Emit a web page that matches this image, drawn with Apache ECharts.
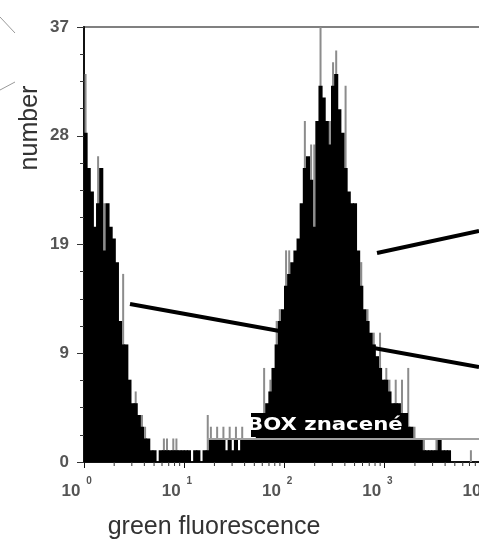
<!DOCTYPE html>
<html>
<head>
<meta charset="utf-8">
<script src="https://cdn.jsdelivr.net/npm/echarts@6/dist/echarts.min.js"></script>
<style>
  html, body { margin: 0; padding: 0; background: #fff; }
  #chart { width: 479px; height: 543px; }
</style>
</head>
<body>
<div id="chart"></div>
<script>
// histogram channels, 32 per decade, starting at 10^0
var binsPerDecade = 32;
var counts = [
  28, 25, 23, 20, 22, 25, 18, 22, 20, 19, 17, 12, 10, 10, 7, 5,
  5, 4, 3, 2, 2, 1, 1, 0, 1, 1, 1, 1, 1, 1, 1, 1,
  1, 1, 0, 1, 1, 0, 1, 1, 2, 2, 2, 2, 2, 1, 2, 1,
  2, 1, 2, 2, 2, 2, 2, 3, 3, 4, 5, 6, 8, 10, 12, 13,
  15, 16, 17, 18, 19, 22, 25, 26, 24, 20, 29, 32, 31, 29, 27, 32,
  33, 30, 28, 25, 23, 22, 22, 18, 15, 13, 12, 11, 10, 9, 8, 7,
  7, 6, 5, 5, 5, 4, 4, 3, 3, 2, 2, 2, 1, 1, 1, 1,
  1, 2, 1, 1, 1, 0, 0, 0, 0, 0, 0, 0, 0, 0, 0, 0
];
// thin grey single-channel spikes poking above the black bars
var spikeBins = [0, 4, 6, 12, 16, 18, 19, 25, 26, 28, 29, 39, 40, 42, 44, 46, 48, 50, 57, 59, 61, 62, 64, 65, 70, 72, 73, 75, 78, 79, 80, 83, 88, 90, 92, 94, 96, 97, 99, 101, 103, 105, 108, 112, 123];
var spikeVals = [33, 26, 22, 16, 6, 4, 3, 2, 2, 2, 2, 4, 3, 3, 3, 3, 3, 3, 8, 7, 12, 13, 18, 18, 29, 27, 27, 40, 29, 34, 35, 32, 17, 13, 11, 11, 8, 7, 7, 7, 8, 3, 2, 2, 1];

var yTicks = [0, 9, 19, 28, 37];
var decades = [0, 1, 2, 3, 4];
var gateFrom = 17, gateTo = 10000, gateLevel = 1.95;

var myChart = echarts.init(document.getElementById('chart'));

var histData = counts.map(function (c, i) {
    return [Math.pow(10, i / binsPerDecade), c, Math.pow(10, (i + 1) / binsPerDecade)];
});
var spikeData = spikeBins.map(function (b, k) {
    return [Math.pow(10, (b + 0.5) / binsPerDecade), spikeVals[k]];
});
var minorData = [];
decades.slice(0, 4).forEach(function (d) {
    for (var m = 2; m <= 9; m++) minorData.push([m * Math.pow(10, d), 0]);
});

var font = '"Liberation Sans", Arial, sans-serif';

option = {
    animation: false,
    grid: {
        left: 84, top: 27, right: -6, bottom: 81,
        outerBoundsMode: 'none',
        containLabel: false,
        show: true, borderColor: '#808080', borderWidth: 2
    },
    xAxis: [
        {
            // main log axis, shows the "10" base of each decade label
            type: 'log',
            logBase: 10,
            min: 1,
            max: 10000,
            splitLine: { show: false },
            axisLine: { lineStyle: { color: '#111', width: 2 } },
            axisTick: { show: true, length: 6, lineStyle: { color: '#111', width: 1 } },
            axisLabel: {
                margin: 21,
                hideOverlap: false,
                fontSize: 17,
                fontWeight: 'bold',
                lineHeight: 17,
                color: '#555',
                fontFamily: font,
                padding: [0, 26, 0, 0],
                formatter: function () { return '10'; }
            }
        },
        {
            // same scale, only carries the superscript exponents
            type: 'log',
            logBase: 10,
            min: 1,
            max: 10000,
            position: 'bottom',
            splitLine: { show: false },
            axisLine: { show: false },
            axisTick: { show: false },
            axisLabel: {
                margin: 14,
                hideOverlap: false,
                fontSize: 10,
                fontWeight: 'bold',
                lineHeight: 10,
                color: '#555',
                fontFamily: font,
                padding: [0, 0, 0, 10],
                formatter: function (v) { return String(Math.round(Math.log10(v))); }
            }
        }
    ],
    yAxis: {
        type: 'value',
        min: 0,
        max: 37,
        interval: 9.25,
        splitLine: { show: false },
        axisLine: { show: true, lineStyle: { color: '#111', width: 2 } },
        axisTick: { show: true, length: 7, lineStyle: { color: '#333' } },
        minorTick: { show: true, splitNumber: 4, length: 4, lineStyle: { color: '#333' } },
        axisLabel: {
            margin: 15,
            fontSize: 17,
            fontWeight: 'bold',
            color: '#555',
            fontFamily: font,
            formatter: function (v) {
                var r = Math.round(v);
                return yTicks.indexOf(r) >= 0 ? String(r) : '';
            }
        }
    },
    series: [
        {
            name: 'spikes',
            type: 'custom',
            clip: true,
            z: 2,
            data: spikeData,
            encode: { x: 0, y: 1 },
            renderItem: function (params, api) {
                var top = api.coord([api.value(0), api.value(1)]);
                var base = api.coord([api.value(0), 0]);
                return {
                    type: 'rect',
                    shape: { x: top[0] - 1, y: top[1], width: 2, height: base[1] - top[1] },
                    style: { fill: '#8c8c8c' }
                };
            }
        },
        {
            name: 'counts',
            type: 'custom',
            clip: true,
            z: 3,
            data: histData,
            encode: { x: 0, y: 1 },
            renderItem: function (params, api) {
                var p0 = api.coord([api.value(0), 0]);
                var p1 = api.coord([api.value(2), api.value(1)]);
                return {
                    type: 'rect',
                    shape: { x: p0[0] - 0.5, y: p1[1], width: p1[0] - p0[0] + 1, height: p0[1] - p1[1] },
                    style: { fill: '#000' }
                };
            }
        },
        {
            name: 'minor',
            type: 'custom',
            clip: false,
            z: 4,
            data: minorData,
            encode: { x: 0, y: 1 },
            renderItem: function (params, api) {
                var p = api.coord([api.value(0), 0]);
                return {
                    type: 'line',
                    shape: { x1: p[0], y1: p[1], x2: p[0], y2: p[1] + 4 },
                    style: { stroke: '#333', lineWidth: 1 }
                };
            }
        },
        {
            name: 'gate',
            type: 'line',
            z: 6,
            symbol: 'none',
            data: [[gateFrom, gateLevel], [gateTo, gateLevel]],
            lineStyle: { color: '#a0a0a0', width: 2 }
        }
    ],
    graphic: [
        {
            type: 'text', z: 100,
            x: 30, y: 128, rotation: Math.PI / 2, originX: 0, originY: 0,
            style: {
                text: 'number', fill: '#333', font: '25px ' + font,
                align: 'center', verticalAlign: 'middle'
            }
        },
        {
            type: 'text', z: 100,
            x: 214, y: 527,
            style: {
                text: 'green fluorescence', fill: '#333', font: '25px ' + font,
                align: 'center', verticalAlign: 'middle'
            }
        },
        {
            type: 'rect', z: 100,
            shape: { x: 251, y: 413, width: 157, height: 24 },
            style: { fill: '#000' }
        },
        {
            type: 'text', z: 101,
            x: 247, y: 426, scaleX: 1.25,
            style: {
                text: 'BOX znacené', fill: '#fff', font: 'bold 17px "DejaVu Sans", Verdana, sans-serif',
                align: 'left', verticalAlign: 'middle'
            }
        },
        {
            type: 'line', z: 100,
            shape: { x1: 130, y1: 304, x2: 479, y2: 367 },
            style: { stroke: '#000', lineWidth: 4 }
        },
        {
            type: 'line', z: 100,
            shape: { x1: 377, y1: 253, x2: 479, y2: 231 },
            style: { stroke: '#000', lineWidth: 4 }
        },
        {
            type: 'line', z: 100,
            shape: { x1: 0, y1: 17, x2: 15, y2: 33 },
            style: { stroke: '#999', lineWidth: 1 }
        },
        {
            type: 'line', z: 100,
            shape: { x1: 0, y1: 90, x2: 15, y2: 82 },
            style: { stroke: '#999', lineWidth: 1 }
        }
    ]
};

myChart.setOption(option);
</script>
</body>
</html>
